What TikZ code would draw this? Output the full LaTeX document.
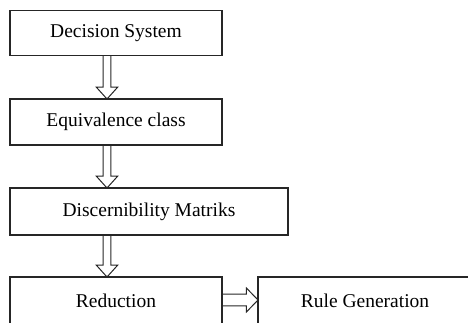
\documentclass[tikz,border=0pt]{standalone}
\usepackage{fontspec}
\setmainfont{Liberation Serif}
\usetikzlibrary{calc}
\begin{document}
\begin{tikzpicture}[x=1pt,y=-1pt,inner sep=0pt,outer sep=0pt,
stagebox/.style={draw=black!85,rectangle,line width=1.3pt,minimum width=212pt,minimum height=46pt,font=\fontsize{19.5}{22}\selectfont},
hollow/.style n args={3}{line width=1pt,draw=black!85,to path={
 ($(\tikztostart)!#1!90:(\tikztotarget)$)
 -- ($(\tikztotarget)!#3!(\tikztostart)!#1!-90:(\tikztostart)$)
 -- ($(\tikztotarget)!#3!(\tikztostart)!#2!-90:(\tikztostart)$)
 -- (\tikztotarget)
 -- ($(\tikztotarget)!#3!(\tikztostart)!#2!90:(\tikztostart)$)
 -- ($(\tikztotarget)!#3!(\tikztostart)!#1!90:(\tikztostart)$)
 -- ($(\tikztostart)!#1!-90:(\tikztotarget)$)}}]
\useasboundingbox (0,0) rectangle (468,322);
\clip (0,0) rectangle (468,322);
\node[stagebox,minimum height=45.5pt] (sys) at (116,33) {Decision System};
\node[stagebox] (eqv) at (116,122) {Equivalence class};
\node[stagebox,minimum width=278pt,minimum height=47pt] (disc) at (149,211.5) {Discernibility Matriks};
\node[stagebox,minimum height=50pt] (red) at (116,302) {\raisebox{2pt}{Reduction}};
\node[stagebox,minimum width=214pt,minimum height=50pt] (rule) at (365,302) {\raisebox{2pt}{Rule Generation}};
\draw[hollow={3.8pt}{10.8pt}{12pt}] ([xshift=-9pt]sys.south) to ([xshift=-9pt]eqv.north);
\draw[hollow={3.8pt}{10.8pt}{12pt}] ([xshift=-9pt]eqv.south) to ([xshift=-9pt]eqv.south |- disc.north);
\draw[hollow={3.8pt}{10.8pt}{12pt}] ([xshift=-9pt]eqv.south |- disc.south) to ([xshift=-9pt]red.north);
\draw[hollow={5.8pt}{12pt}{11.6pt}] ([yshift=2pt]red.east) to ([yshift=2pt]rule.west);
\end{tikzpicture}
\end{document}
